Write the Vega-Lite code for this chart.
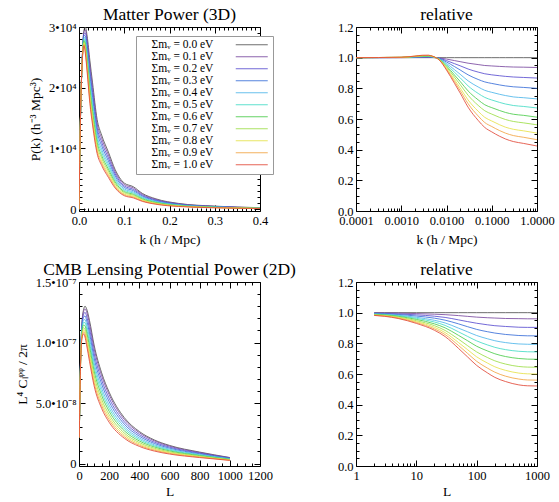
{
"$schema": "https://vega.github.io/schema/vega-lite/v6.json",
"background": "white",
"padding": {"left": 14, "top": 5, "right": 5, "bottom": 3},
"config": {
  "font": "Liberation Serif, serif",
  "view": {"stroke": "black", "strokeWidth": 1},
  "axis": {"domain": false, "grid": false, "tickColor": "black", "tickWidth": 1, "labelColor": "black", "titleColor": "black", "labelFont": "Liberation Serif, serif", "titleFont": "Liberation Serif, serif", "labelFontSize": 12.5, "titleFontSize": 13.5, "titleFontWeight": "normal", "labelFontWeight": "normal", "labelFlush": false, "labelOverlap": false, "labelPadding": 9},
  "title": {"font": "Liberation Serif, serif", "fontSize": 17.5, "fontWeight": "normal", "color": "black", "offset": -2, "frame": "group"},
  "line": {"strokeWidth": 1, "interpolate": "monotone", "opacity": 0.85}
},
"datasets": {
"pk": [
{"m":"0.0","k":0,"P":0},{"m":"0.1","k":0,"P":0},{"m":"0.2","k":0,"P":0},{"m":"0.3","k":0,"P":0},{"m":"0.4","k":0,"P":0},{"m":"0.5","k":0,"P":0},{"m":"0.6","k":0,"P":0},{"m":"0.7","k":0,"P":0},{"m":"0.8","k":0,"P":0},{"m":"0.9","k":0,"P":0},{"m":"1.0","k":0,"P":0},
{"m":"0.0","k":0.003,"P":14000},{"m":"0.1","k":0.003,"P":14020},{"m":"0.2","k":0.003,"P":14050},{"m":"0.3","k":0.003,"P":14080},{"m":"0.4","k":0.003,"P":14100},{"m":"0.5","k":0.003,"P":14120},{"m":"0.6","k":0.003,"P":14150},{"m":"0.7","k":0.003,"P":14170},{"m":"0.8","k":0.003,"P":14190},{"m":"0.9","k":0.003,"P":14200},{"m":"1.0","k":0.003,"P":14220},
{"m":"0.0","k":0.007,"P":24500},{"m":"0.1","k":0.007,"P":24450},{"m":"0.2","k":0.007,"P":24400},{"m":"0.3","k":0.007,"P":24350},{"m":"0.4","k":0.007,"P":24300},{"m":"0.5","k":0.007,"P":24260},{"m":"0.6","k":0.007,"P":24210},{"m":"0.7","k":0.007,"P":24180},{"m":"0.8","k":0.007,"P":24140},{"m":"0.9","k":0.007,"P":24110},{"m":"1.0","k":0.007,"P":24080},
{"m":"0.0","k":0.011,"P":29500},{"m":"0.1","k":0.011,"P":29220},{"m":"0.2","k":0.011,"P":28910},{"m":"0.3","k":0.011,"P":28620},{"m":"0.4","k":0.011,"P":28310},{"m":"0.5","k":0.011,"P":28050},{"m":"0.6","k":0.011,"P":27780},{"m":"0.7","k":0.011,"P":27560},{"m":"0.8","k":0.011,"P":27320},{"m":"0.9","k":0.011,"P":27130},{"m":"1.0","k":0.011,"P":26950},
{"m":"0.0","k":0.014,"P":30000},{"m":"0.1","k":0.014,"P":29520},{"m":"0.2","k":0.014,"P":29000},{"m":"0.3","k":0.014,"P":28500},{"m":"0.4","k":0.014,"P":27980},{"m":"0.5","k":0.014,"P":27540},{"m":"0.6","k":0.014,"P":27090},{"m":"0.7","k":0.014,"P":26720},{"m":"0.8","k":0.014,"P":26310},{"m":"0.9","k":0.014,"P":25990},{"m":"1.0","k":0.014,"P":25680},
{"m":"0.0","k":0.018,"P":28500},{"m":"0.1","k":0.018,"P":27840},{"m":"0.2","k":0.018,"P":27140},{"m":"0.3","k":0.018,"P":26450},{"m":"0.4","k":0.018,"P":25740},{"m":"0.5","k":0.018,"P":25140},{"m":"0.6","k":0.018,"P":24520},{"m":"0.7","k":0.018,"P":24010},{"m":"0.8","k":0.018,"P":23450},{"m":"0.9","k":0.018,"P":23010},{"m":"1.0","k":0.018,"P":22590},
{"m":"0.0","k":0.024,"P":24500},{"m":"0.1","k":0.024,"P":23720},{"m":"0.2","k":0.024,"P":22870},{"m":"0.3","k":0.024,"P":22050},{"m":"0.4","k":0.024,"P":21210},{"m":"0.5","k":0.024,"P":20480},{"m":"0.6","k":0.024,"P":19750},{"m":"0.7","k":0.024,"P":19140},{"m":"0.8","k":0.024,"P":18470},{"m":"0.9","k":0.024,"P":17950},{"m":"1.0","k":0.024,"P":17440},
{"m":"0.0","k":0.03,"P":20800},{"m":"0.1","k":0.03,"P":20030},{"m":"0.2","k":0.03,"P":19200},{"m":"0.3","k":0.03,"P":18390},{"m":"0.4","k":0.03,"P":17560},{"m":"0.5","k":0.03,"P":16840},{"m":"0.6","k":0.03,"P":16120},{"m":"0.7","k":0.03,"P":15520},{"m":"0.8","k":0.03,"P":14870},{"m":"0.9","k":0.03,"P":14350},{"m":"1.0","k":0.03,"P":13850},
{"m":"0.0","k":0.04,"P":14800},{"m":"0.1","k":0.04,"P":14180},{"m":"0.2","k":0.04,"P":13500},{"m":"0.3","k":0.04,"P":12850},{"m":"0.4","k":0.04,"P":12170},{"m":"0.5","k":0.04,"P":11600},{"m":"0.6","k":0.04,"P":11010},{"m":"0.7","k":0.04,"P":10520},{"m":"0.8","k":0.04,"P":9990},{"m":"0.9","k":0.04,"P":9570},{"m":"1.0","k":0.04,"P":9170},
{"m":"0.0","k":0.05,"P":12200},{"m":"0.1","k":0.05,"P":11650},{"m":"0.2","k":0.05,"P":11050},{"m":"0.3","k":0.05,"P":10470},{"m":"0.4","k":0.05,"P":9870},{"m":"0.5","k":0.05,"P":9360},{"m":"0.6","k":0.05,"P":8840},{"m":"0.7","k":0.05,"P":8410},{"m":"0.8","k":0.05,"P":7940},{"m":"0.9","k":0.05,"P":7570},{"m":"1.0","k":0.05,"P":7210},
{"m":"0.0","k":0.065,"P":9400},{"m":"0.1","k":0.065,"P":8940},{"m":"0.2","k":0.065,"P":8440},{"m":"0.3","k":0.065,"P":7950},{"m":"0.4","k":0.065,"P":7450},{"m":"0.5","k":0.065,"P":7030},{"m":"0.6","k":0.065,"P":6590},{"m":"0.7","k":0.065,"P":6230},{"m":"0.8","k":0.065,"P":5840},{"m":"0.9","k":0.065,"P":5530},{"m":"1.0","k":0.065,"P":5230},
{"m":"0.0","k":0.08,"P":6500},{"m":"0.1","k":0.08,"P":6160},{"m":"0.2","k":0.08,"P":5800},{"m":"0.3","k":0.08,"P":5450},{"m":"0.4","k":0.08,"P":5080},{"m":"0.5","k":0.08,"P":4770},{"m":"0.6","k":0.08,"P":4460},{"m":"0.7","k":0.08,"P":4190},{"m":"0.8","k":0.08,"P":3910},{"m":"0.9","k":0.08,"P":3680},{"m":"1.0","k":0.08,"P":3470},
{"m":"0.0","k":0.1,"P":4300},{"m":"0.1","k":0.1,"P":4070},{"m":"0.2","k":0.1,"P":3820},{"m":"0.3","k":0.1,"P":3580},{"m":"0.4","k":0.1,"P":3330},{"m":"0.5","k":0.1,"P":3110},{"m":"0.6","k":0.1,"P":2900},{"m":"0.7","k":0.1,"P":2720},{"m":"0.8","k":0.1,"P":2520},{"m":"0.9","k":0.1,"P":2370},{"m":"1.0","k":0.1,"P":2220},
{"m":"0.0","k":0.12,"P":3700},{"m":"0.1","k":0.12,"P":3500},{"m":"0.2","k":0.12,"P":3270},{"m":"0.3","k":0.12,"P":3060},{"m":"0.4","k":0.12,"P":2840},{"m":"0.5","k":0.12,"P":2650},{"m":"0.6","k":0.12,"P":2460},{"m":"0.7","k":0.12,"P":2300},{"m":"0.8","k":0.12,"P":2130},{"m":"0.9","k":0.12,"P":1990},{"m":"1.0","k":0.12,"P":1860},
{"m":"0.0","k":0.14,"P":2600},{"m":"0.1","k":0.14,"P":2450},{"m":"0.2","k":0.14,"P":2290},{"m":"0.3","k":0.14,"P":2140},{"m":"0.4","k":0.14,"P":1980},{"m":"0.5","k":0.14,"P":1850},{"m":"0.6","k":0.14,"P":1710},{"m":"0.7","k":0.14,"P":1590},{"m":"0.8","k":0.14,"P":1470},{"m":"0.9","k":0.14,"P":1370},{"m":"1.0","k":0.14,"P":1280},
{"m":"0.0","k":0.17,"P":1700},{"m":"0.1","k":0.17,"P":1600},{"m":"0.2","k":0.17,"P":1500},{"m":"0.3","k":0.17,"P":1390},{"m":"0.4","k":0.17,"P":1290},{"m":"0.5","k":0.17,"P":1200},{"m":"0.6","k":0.17,"P":1100},{"m":"0.7","k":0.17,"P":1030},{"m":"0.8","k":0.17,"P":940},{"m":"0.9","k":0.17,"P":880},{"m":"1.0","k":0.17,"P":810},
{"m":"0.0","k":0.22,"P":950},{"m":"0.1","k":0.22,"P":890},{"m":"0.2","k":0.22,"P":830},{"m":"0.3","k":0.22,"P":770},{"m":"0.4","k":0.22,"P":710},{"m":"0.5","k":0.22,"P":660},{"m":"0.6","k":0.22,"P":610},{"m":"0.7","k":0.22,"P":560},{"m":"0.8","k":0.22,"P":520},{"m":"0.9","k":0.22,"P":480},{"m":"1.0","k":0.22,"P":440},
{"m":"0.0","k":0.3,"P":500},{"m":"0.1","k":0.3,"P":470},{"m":"0.2","k":0.3,"P":440},{"m":"0.3","k":0.3,"P":410},{"m":"0.4","k":0.3,"P":370},{"m":"0.5","k":0.3,"P":340},{"m":"0.6","k":0.3,"P":320},{"m":"0.7","k":0.3,"P":290},{"m":"0.8","k":0.3,"P":270},{"m":"0.9","k":0.3,"P":250},{"m":"1.0","k":0.3,"P":230},
{"m":"0.0","k":0.4,"P":250},{"m":"0.1","k":0.4,"P":235},{"m":"0.2","k":0.4,"P":218},{"m":"0.3","k":0.4,"P":202},{"m":"0.4","k":0.4,"P":186},{"m":"0.5","k":0.4,"P":171},{"m":"0.6","k":0.4,"P":157},{"m":"0.7","k":0.4,"P":145},{"m":"0.8","k":0.4,"P":132},{"m":"0.9","k":0.4,"P":122},{"m":"1.0","k":0.4,"P":112}
],
"rk": [
{"m":"0.0","k":0.0001,"r":1},{"m":"0.1","k":0.0001,"r":1},{"m":"0.2","k":0.0001,"r":1},{"m":"0.3","k":0.0001,"r":1},{"m":"0.4","k":0.0001,"r":1},{"m":"0.5","k":0.0001,"r":1},{"m":"0.6","k":0.0001,"r":1},{"m":"0.7","k":0.0001,"r":1},{"m":"0.8","k":0.0001,"r":1},{"m":"0.9","k":0.0001,"r":1},{"m":"1.0","k":0.0001,"r":1},
{"m":"0.0","k":0.001,"r":1},{"m":"0.1","k":0.001,"r":1.000},{"m":"0.2","k":0.001,"r":1.001},{"m":"0.3","k":0.001,"r":1.001},{"m":"0.4","k":0.001,"r":1.001},{"m":"0.5","k":0.001,"r":1.002},{"m":"0.6","k":0.001,"r":1.002},{"m":"0.7","k":0.001,"r":1.002},{"m":"0.8","k":0.001,"r":1.002},{"m":"0.9","k":0.001,"r":1.003},{"m":"1.0","k":0.001,"r":1.003},
{"m":"0.0","k":0.002,"r":1},{"m":"0.1","k":0.002,"r":1.001},{"m":"0.2","k":0.002,"r":1.002},{"m":"0.3","k":0.002,"r":1.004},{"m":"0.4","k":0.002,"r":1.005},{"m":"0.5","k":0.002,"r":1.006},{"m":"0.6","k":0.002,"r":1.007},{"m":"0.7","k":0.002,"r":1.008},{"m":"0.8","k":0.002,"r":1.009},{"m":"0.9","k":0.002,"r":1.010},{"m":"1.0","k":0.002,"r":1.010},
{"m":"0.0","k":0.003,"r":1},{"m":"0.1","k":0.003,"r":1.002},{"m":"0.2","k":0.003,"r":1.004},{"m":"0.3","k":0.003,"r":1.005},{"m":"0.4","k":0.003,"r":1.007},{"m":"0.5","k":0.003,"r":1.009},{"m":"0.6","k":0.003,"r":1.010},{"m":"0.7","k":0.003,"r":1.012},{"m":"0.8","k":0.003,"r":1.013},{"m":"0.9","k":0.003,"r":1.014},{"m":"1.0","k":0.003,"r":1.016},
{"m":"0.0","k":0.004,"r":1},{"m":"0.1","k":0.004,"r":1.002},{"m":"0.2","k":0.004,"r":1.004},{"m":"0.3","k":0.004,"r":1.006},{"m":"0.4","k":0.004,"r":1.008},{"m":"0.5","k":0.004,"r":1.009},{"m":"0.6","k":0.004,"r":1.011},{"m":"0.7","k":0.004,"r":1.012},{"m":"0.8","k":0.004,"r":1.014},{"m":"0.9","k":0.004,"r":1.015},{"m":"1.0","k":0.004,"r":1.016},
{"m":"0.0","k":0.005,"r":1},{"m":"0.1","k":0.005,"r":1.001},{"m":"0.2","k":0.005,"r":1.002},{"m":"0.3","k":0.005,"r":1.003},{"m":"0.4","k":0.005,"r":1.004},{"m":"0.5","k":0.005,"r":1.005},{"m":"0.6","k":0.005,"r":1.006},{"m":"0.7","k":0.005,"r":1.007},{"m":"0.8","k":0.005,"r":1.007},{"m":"0.9","k":0.005,"r":1.008},{"m":"1.0","k":0.005,"r":1.009},
{"m":"0.0","k":0.007,"r":1},{"m":"0.1","k":0.007,"r":0.998},{"m":"0.2","k":0.007,"r":0.996},{"m":"0.3","k":0.007,"r":0.994},{"m":"0.4","k":0.007,"r":0.992},{"m":"0.5","k":0.007,"r":0.990},{"m":"0.6","k":0.007,"r":0.988},{"m":"0.7","k":0.007,"r":0.987},{"m":"0.8","k":0.007,"r":0.985},{"m":"0.9","k":0.007,"r":0.984},{"m":"1.0","k":0.007,"r":0.983},
{"m":"0.0","k":0.01,"r":1},{"m":"0.1","k":0.01,"r":0.991},{"m":"0.2","k":0.01,"r":0.981},{"m":"0.3","k":0.01,"r":0.972},{"m":"0.4","k":0.01,"r":0.962},{"m":"0.5","k":0.01,"r":0.954},{"m":"0.6","k":0.01,"r":0.946},{"m":"0.7","k":0.01,"r":0.939},{"m":"0.8","k":0.01,"r":0.931},{"m":"0.9","k":0.01,"r":0.925},{"m":"1.0","k":0.01,"r":0.919},
{"m":"0.0","k":0.015,"r":1},{"m":"0.1","k":0.015,"r":0.981},{"m":"0.2","k":0.015,"r":0.961},{"m":"0.3","k":0.015,"r":0.942},{"m":"0.4","k":0.015,"r":0.922},{"m":"0.5","k":0.015,"r":0.905},{"m":"0.6","k":0.015,"r":0.887},{"m":"0.7","k":0.015,"r":0.873},{"m":"0.8","k":0.015,"r":0.857},{"m":"0.9","k":0.015,"r":0.845},{"m":"1.0","k":0.015,"r":0.833},
{"m":"0.0","k":0.02,"r":1},{"m":"0.1","k":0.02,"r":0.974},{"m":"0.2","k":0.02,"r":0.947},{"m":"0.3","k":0.02,"r":0.920},{"m":"0.4","k":0.02,"r":0.892},{"m":"0.5","k":0.02,"r":0.869},{"m":"0.6","k":0.02,"r":0.845},{"m":"0.7","k":0.02,"r":0.825},{"m":"0.8","k":0.02,"r":0.803},{"m":"0.9","k":0.02,"r":0.786},{"m":"1.0","k":0.02,"r":0.770},
{"m":"0.0","k":0.03,"r":1},{"m":"0.1","k":0.03,"r":0.964},{"m":"0.2","k":0.03,"r":0.926},{"m":"0.3","k":0.03,"r":0.888},{"m":"0.4","k":0.03,"r":0.849},{"m":"0.5","k":0.03,"r":0.816},{"m":"0.6","k":0.03,"r":0.783},{"m":"0.7","k":0.03,"r":0.755},{"m":"0.8","k":0.03,"r":0.724},{"m":"0.9","k":0.03,"r":0.700},{"m":"1.0","k":0.03,"r":0.677},
{"m":"0.0","k":0.05,"r":1},{"m":"0.1","k":0.05,"r":0.955},{"m":"0.2","k":0.05,"r":0.906},{"m":"0.3","k":0.05,"r":0.858},{"m":"0.4","k":0.05,"r":0.809},{"m":"0.5","k":0.05,"r":0.767},{"m":"0.6","k":0.05,"r":0.725},{"m":"0.7","k":0.05,"r":0.689},{"m":"0.8","k":0.05,"r":0.651},{"m":"0.9","k":0.05,"r":0.620},{"m":"1.0","k":0.05,"r":0.591},
{"m":"0.0","k":0.07,"r":1},{"m":"0.1","k":0.07,"r":0.949},{"m":"0.2","k":0.07,"r":0.895},{"m":"0.3","k":0.07,"r":0.842},{"m":"0.4","k":0.07,"r":0.787},{"m":"0.5","k":0.07,"r":0.741},{"m":"0.6","k":0.07,"r":0.693},{"m":"0.7","k":0.07,"r":0.654},{"m":"0.8","k":0.07,"r":0.611},{"m":"0.9","k":0.07,"r":0.577},{"m":"1.0","k":0.07,"r":0.545},
{"m":"0.0","k":0.1,"r":1},{"m":"0.1","k":0.1,"r":0.946},{"m":"0.2","k":0.1,"r":0.888},{"m":"0.3","k":0.1,"r":0.832},{"m":"0.4","k":0.1,"r":0.774},{"m":"0.5","k":0.1,"r":0.724},{"m":"0.6","k":0.1,"r":0.674},{"m":"0.7","k":0.1,"r":0.632},{"m":"0.8","k":0.1,"r":0.587},{"m":"0.9","k":0.1,"r":0.551},{"m":"1.0","k":0.1,"r":0.516},
{"m":"0.0","k":0.15,"r":1},{"m":"0.1","k":0.15,"r":0.943},{"m":"0.2","k":0.15,"r":0.882},{"m":"0.3","k":0.15,"r":0.822},{"m":"0.4","k":0.15,"r":0.761},{"m":"0.5","k":0.15,"r":0.708},{"m":"0.6","k":0.15,"r":0.655},{"m":"0.7","k":0.15,"r":0.610},{"m":"0.8","k":0.15,"r":0.562},{"m":"0.9","k":0.15,"r":0.524},{"m":"1.0","k":0.15,"r":0.487},
{"m":"0.0","k":0.2,"r":1},{"m":"0.1","k":0.2,"r":0.941},{"m":"0.2","k":0.2,"r":0.878},{"m":"0.3","k":0.2,"r":0.816},{"m":"0.4","k":0.2,"r":0.753},{"m":"0.5","k":0.2,"r":0.698},{"m":"0.6","k":0.2,"r":0.643},{"m":"0.7","k":0.2,"r":0.597},{"m":"0.8","k":0.2,"r":0.547},{"m":"0.9","k":0.2,"r":0.508},{"m":"1.0","k":0.2,"r":0.470},
{"m":"0.0","k":0.3,"r":1},{"m":"0.1","k":0.3,"r":0.939},{"m":"0.2","k":0.3,"r":0.874},{"m":"0.3","k":0.3,"r":0.810},{"m":"0.4","k":0.3,"r":0.744},{"m":"0.5","k":0.3,"r":0.688},{"m":"0.6","k":0.3,"r":0.631},{"m":"0.7","k":0.3,"r":0.584},{"m":"0.8","k":0.3,"r":0.533},{"m":"0.9","k":0.3,"r":0.492},{"m":"1.0","k":0.3,"r":0.453},
{"m":"0.0","k":0.5,"r":1},{"m":"0.1","k":0.5,"r":0.938},{"m":"0.2","k":0.5,"r":0.871},{"m":"0.3","k":0.5,"r":0.806},{"m":"0.4","k":0.5,"r":0.739},{"m":"0.5","k":0.5,"r":0.682},{"m":"0.6","k":0.5,"r":0.624},{"m":"0.7","k":0.5,"r":0.575},{"m":"0.8","k":0.5,"r":0.523},{"m":"0.9","k":0.5,"r":0.481},{"m":"1.0","k":0.5,"r":0.441},
{"m":"0.0","k":1,"r":1},{"m":"0.1","k":1,"r":0.936},{"m":"0.2","k":1,"r":0.867},{"m":"0.3","k":1,"r":0.800},{"m":"0.4","k":1,"r":0.731},{"m":"0.5","k":1,"r":0.672},{"m":"0.6","k":1,"r":0.612},{"m":"0.7","k":1,"r":0.562},{"m":"0.8","k":1,"r":0.508},{"m":"0.9","k":1,"r":0.465},{"m":"1.0","k":1,"r":0.424}
],
"cl": [
{"m":"0.0","L":2,"C":22.0e-9},{"m":"0.1","L":2,"C":21.96e-9},{"m":"0.2","L":2,"C":21.91e-9},{"m":"0.3","L":2,"C":21.87e-9},{"m":"0.4","L":2,"C":21.82e-9},{"m":"0.5","L":2,"C":21.78e-9},{"m":"0.6","L":2,"C":21.74e-9},{"m":"0.7","L":2,"C":21.69e-9},{"m":"0.8","L":2,"C":21.67e-9},{"m":"0.9","L":2,"C":21.63e-9},{"m":"1.0","L":2,"C":21.60e-9},
{"m":"0.0","L":5,"C":50.0e-9},{"m":"0.1","L":5,"C":49.85e-9},{"m":"0.2","L":5,"C":49.6e-9},{"m":"0.3","L":5,"C":49.4e-9},{"m":"0.4","L":5,"C":49.15e-9},{"m":"0.5","L":5,"C":49.0e-9},{"m":"0.6","L":5,"C":48.8e-9},{"m":"0.7","L":5,"C":48.6e-9},{"m":"0.8","L":5,"C":48.4e-9},{"m":"0.9","L":5,"C":48.25e-9},{"m":"1.0","L":5,"C":48.1e-9},
{"m":"0.0","L":10,"C":85.0e-9},{"m":"0.1","L":10,"C":84.49e-9},{"m":"0.2","L":10,"C":83.81e-9},{"m":"0.3","L":10,"C":83.13e-9},{"m":"0.4","L":10,"C":82.45e-9},{"m":"0.5","L":10,"C":81.86e-9},{"m":"0.6","L":10,"C":81.26e-9},{"m":"0.7","L":10,"C":80.58e-9},{"m":"0.8","L":10,"C":80.07e-9},{"m":"0.9","L":10,"C":79.56e-9},{"m":"1.0","L":10,"C":79.05e-9},
{"m":"0.0","L":20,"C":117.0e-9},{"m":"0.1","L":20,"C":115.83e-9},{"m":"0.2","L":20,"C":114.31e-9},{"m":"0.3","L":20,"C":112.79e-9},{"m":"0.4","L":20,"C":111.15e-9},{"m":"0.5","L":20,"C":109.86e-9},{"m":"0.6","L":20,"C":108.46e-9},{"m":"0.7","L":20,"C":107.06e-9},{"m":"0.8","L":20,"C":105.77e-9},{"m":"0.9","L":20,"C":104.6e-9},{"m":"1.0","L":20,"C":103.55e-9},
{"m":"0.0","L":30,"C":127.0e-9},{"m":"0.1","L":30,"C":125.35e-9},{"m":"0.2","L":30,"C":123.06e-9},{"m":"0.3","L":30,"C":120.78e-9},{"m":"0.4","L":30,"C":118.49e-9},{"m":"0.5","L":30,"C":116.46e-9},{"m":"0.6","L":30,"C":114.43e-9},{"m":"0.7","L":30,"C":112.27e-9},{"m":"0.8","L":30,"C":110.49e-9},{"m":"0.9","L":30,"C":108.84e-9},{"m":"1.0","L":30,"C":107.19e-9},
{"m":"0.0","L":40,"C":130.0e-9},{"m":"0.1","L":40,"C":127.92e-9},{"m":"0.2","L":40,"C":124.93e-9},{"m":"0.3","L":40,"C":121.94e-9},{"m":"0.4","L":40,"C":118.95e-9},{"m":"0.5","L":40,"C":116.35e-9},{"m":"0.6","L":40,"C":113.75e-9},{"m":"0.7","L":40,"C":111.02e-9},{"m":"0.8","L":40,"C":108.68e-9},{"m":"0.9","L":40,"C":106.6e-9},{"m":"1.0","L":40,"C":104.52e-9},
{"m":"0.0","L":50,"C":128.0e-9},{"m":"0.1","L":50,"C":125.57e-9},{"m":"0.2","L":50,"C":121.98e-9},{"m":"0.3","L":50,"C":118.66e-9},{"m":"0.4","L":50,"C":115.07e-9},{"m":"0.5","L":50,"C":112.0e-9},{"m":"0.6","L":50,"C":109.06e-9},{"m":"0.7","L":50,"C":105.86e-9},{"m":"0.8","L":50,"C":103.04e-9},{"m":"0.9","L":50,"C":100.61e-9},{"m":"1.0","L":50,"C":98.18e-9},
{"m":"0.0","L":70,"C":118.0e-9},{"m":"0.1","L":70,"C":115.17e-9},{"m":"0.2","L":70,"C":111.16e-9},{"m":"0.3","L":70,"C":107.26e-9},{"m":"0.4","L":70,"C":103.37e-9},{"m":"0.5","L":70,"C":99.83e-9},{"m":"0.6","L":70,"C":96.52e-9},{"m":"0.7","L":70,"C":92.75e-9},{"m":"0.8","L":70,"C":89.68e-9},{"m":"0.9","L":70,"C":86.85e-9},{"m":"1.0","L":70,"C":84.13e-9},
{"m":"0.0","L":100,"C":98.0e-9},{"m":"0.1","L":100,"C":95.16e-9},{"m":"0.2","L":100,"C":91.24e-9},{"m":"0.3","L":100,"C":87.32e-9},{"m":"0.4","L":100,"C":83.4e-9},{"m":"0.5","L":100,"C":79.97e-9},{"m":"0.6","L":100,"C":76.54e-9},{"m":"0.7","L":100,"C":72.91e-9},{"m":"0.8","L":100,"C":69.78e-9},{"m":"0.9","L":100,"C":66.93e-9},{"m":"1.0","L":100,"C":64.29e-9},
{"m":"0.0","L":150,"C":75.0e-9},{"m":"0.1","L":150,"C":72.53e-9},{"m":"0.2","L":150,"C":69.08e-9},{"m":"0.3","L":150,"C":65.7e-9},{"m":"0.4","L":150,"C":62.25e-9},{"m":"0.5","L":150,"C":59.25e-9},{"m":"0.6","L":150,"C":56.33e-9},{"m":"0.7","L":150,"C":53.1e-9},{"m":"0.8","L":150,"C":50.4e-9},{"m":"0.9","L":150,"C":47.93e-9},{"m":"1.0","L":150,"C":45.6e-9},
{"m":"0.0","L":200,"C":59.0e-9},{"m":"0.1","L":200,"C":56.94e-9},{"m":"0.2","L":200,"C":53.99e-9},{"m":"0.3","L":200,"C":51.15e-9},{"m":"0.4","L":200,"C":48.2e-9},{"m":"0.5","L":200,"C":45.67e-9},{"m":"0.6","L":200,"C":43.19e-9},{"m":"0.7","L":200,"C":40.47e-9},{"m":"0.8","L":200,"C":38.17e-9},{"m":"0.9","L":200,"C":36.11e-9},{"m":"1.0","L":200,"C":34.1e-9},
{"m":"0.0","L":300,"C":38.0e-9},{"m":"0.1","L":300,"C":36.56e-9},{"m":"0.2","L":300,"C":34.58e-9},{"m":"0.3","L":300,"C":32.6e-9},{"m":"0.4","L":300,"C":30.59e-9},{"m":"0.5","L":300,"C":28.84e-9},{"m":"0.6","L":300,"C":27.13e-9},{"m":"0.7","L":300,"C":25.27e-9},{"m":"0.8","L":300,"C":23.71e-9},{"m":"0.9","L":300,"C":22.27e-9},{"m":"1.0","L":300,"C":20.94e-9},
{"m":"0.0","L":400,"C":26.5e-9},{"m":"0.1","L":400,"C":25.47e-9},{"m":"0.2","L":400,"C":24.04e-9},{"m":"0.3","L":400,"C":22.63e-9},{"m":"0.4","L":400,"C":21.17e-9},{"m":"0.5","L":400,"C":19.93e-9},{"m":"0.6","L":400,"C":18.68e-9},{"m":"0.7","L":400,"C":17.36e-9},{"m":"0.8","L":400,"C":16.22e-9},{"m":"0.9","L":400,"C":15.18e-9},{"m":"1.0","L":400,"C":14.2e-9},
{"m":"0.0","L":500,"C":19.5e-9},{"m":"0.1","L":500,"C":18.74e-9},{"m":"0.2","L":500,"C":17.65e-9},{"m":"0.3","L":500,"C":16.59e-9},{"m":"0.4","L":500,"C":15.52e-9},{"m":"0.5","L":500,"C":14.59e-9},{"m":"0.6","L":500,"C":13.67e-9},{"m":"0.7","L":500,"C":12.66e-9},{"m":"0.8","L":500,"C":11.82e-9},{"m":"0.9","L":500,"C":11.06e-9},{"m":"1.0","L":500,"C":10.32e-9},
{"m":"0.0","L":600,"C":15.0e-9},{"m":"0.1","L":600,"C":14.4e-9},{"m":"0.2","L":600,"C":13.58e-9},{"m":"0.3","L":600,"C":12.75e-9},{"m":"0.4","L":600,"C":11.91e-9},{"m":"0.5","L":600,"C":11.19e-9},{"m":"0.6","L":600,"C":10.47e-9},{"m":"0.7","L":600,"C":9.69e-9},{"m":"0.8","L":600,"C":9.05e-9},{"m":"0.9","L":600,"C":8.45e-9},{"m":"1.0","L":600,"C":7.88e-9},
{"m":"0.0","L":800,"C":9.5e-9},{"m":"0.1","L":800,"C":9.12e-9},{"m":"0.2","L":800,"C":8.59e-9},{"m":"0.3","L":800,"C":8.07e-9},{"m":"0.4","L":800,"C":7.53e-9},{"m":"0.5","L":800,"C":7.08e-9},{"m":"0.6","L":800,"C":6.62e-9},{"m":"0.7","L":800,"C":6.13e-9},{"m":"0.8","L":800,"C":5.71e-9},{"m":"0.9","L":800,"C":5.33e-9},{"m":"1.0","L":800,"C":4.97e-9},
{"m":"0.0","L":1000,"C":5.0e-9},{"m":"0.1","L":1000,"C":4.8e-9},{"m":"0.2","L":1000,"C":4.52e-9},{"m":"0.3","L":1000,"C":4.25e-9},{"m":"0.4","L":1000,"C":3.97e-9},{"m":"0.5","L":1000,"C":3.73e-9},{"m":"0.6","L":1000,"C":3.48e-9},{"m":"0.7","L":1000,"C":3.23e-9},{"m":"0.8","L":1000,"C":3.0e-9},{"m":"0.9","L":1000,"C":2.81e-9},{"m":"1.0","L":1000,"C":2.61e-9}
],
"rl": [
{"m":"0.0","L":2,"r":1},{"m":"0.1","L":2,"r":0.998},{"m":"0.2","L":2,"r":0.996},{"m":"0.3","L":2,"r":0.994},{"m":"0.4","L":2,"r":0.992},{"m":"0.5","L":2,"r":0.990},{"m":"0.6","L":2,"r":0.988},{"m":"0.7","L":2,"r":0.986},{"m":"0.8","L":2,"r":0.985},{"m":"0.9","L":2,"r":0.983},{"m":"1.0","L":2,"r":0.982},
{"m":"0.0","L":3,"r":1},{"m":"0.1","L":3,"r":0.998},{"m":"0.2","L":3,"r":0.995},{"m":"0.3","L":3,"r":0.992},{"m":"0.4","L":3,"r":0.990},{"m":"0.5","L":3,"r":0.987},{"m":"0.6","L":3,"r":0.985},{"m":"0.7","L":3,"r":0.982},{"m":"0.8","L":3,"r":0.980},{"m":"0.9","L":3,"r":0.978},{"m":"1.0","L":3,"r":0.976},
{"m":"0.0","L":5,"r":1},{"m":"0.1","L":5,"r":0.997},{"m":"0.2","L":5,"r":0.992},{"m":"0.3","L":5,"r":0.988},{"m":"0.4","L":5,"r":0.983},{"m":"0.5","L":5,"r":0.980},{"m":"0.6","L":5,"r":0.976},{"m":"0.7","L":5,"r":0.972},{"m":"0.8","L":5,"r":0.968},{"m":"0.9","L":5,"r":0.965},{"m":"1.0","L":5,"r":0.962},
{"m":"0.0","L":10,"r":1},{"m":"0.1","L":10,"r":0.994},{"m":"0.2","L":10,"r":0.986},{"m":"0.3","L":10,"r":0.978},{"m":"0.4","L":10,"r":0.970},{"m":"0.5","L":10,"r":0.963},{"m":"0.6","L":10,"r":0.956},{"m":"0.7","L":10,"r":0.948},{"m":"0.8","L":10,"r":0.942},{"m":"0.9","L":10,"r":0.936},{"m":"1.0","L":10,"r":0.930},
{"m":"0.0","L":20,"r":1},{"m":"0.1","L":20,"r":0.990},{"m":"0.2","L":20,"r":0.977},{"m":"0.3","L":20,"r":0.964},{"m":"0.4","L":20,"r":0.950},{"m":"0.5","L":20,"r":0.939},{"m":"0.6","L":20,"r":0.927},{"m":"0.7","L":20,"r":0.915},{"m":"0.8","L":20,"r":0.904},{"m":"0.9","L":20,"r":0.894},{"m":"1.0","L":20,"r":0.885},
{"m":"0.0","L":30,"r":1},{"m":"0.1","L":30,"r":0.987},{"m":"0.2","L":30,"r":0.969},{"m":"0.3","L":30,"r":0.951},{"m":"0.4","L":30,"r":0.933},{"m":"0.5","L":30,"r":0.917},{"m":"0.6","L":30,"r":0.901},{"m":"0.7","L":30,"r":0.884},{"m":"0.8","L":30,"r":0.870},{"m":"0.9","L":30,"r":0.857},{"m":"1.0","L":30,"r":0.844},
{"m":"0.0","L":50,"r":1},{"m":"0.1","L":50,"r":0.981},{"m":"0.2","L":50,"r":0.953},{"m":"0.3","L":50,"r":0.927},{"m":"0.4","L":50,"r":0.899},{"m":"0.5","L":50,"r":0.875},{"m":"0.6","L":50,"r":0.852},{"m":"0.7","L":50,"r":0.827},{"m":"0.8","L":50,"r":0.805},{"m":"0.9","L":50,"r":0.786},{"m":"1.0","L":50,"r":0.767},
{"m":"0.0","L":70,"r":1},{"m":"0.1","L":70,"r":0.976},{"m":"0.2","L":70,"r":0.942},{"m":"0.3","L":70,"r":0.909},{"m":"0.4","L":70,"r":0.876},{"m":"0.5","L":70,"r":0.846},{"m":"0.6","L":70,"r":0.818},{"m":"0.7","L":70,"r":0.786},{"m":"0.8","L":70,"r":0.760},{"m":"0.9","L":70,"r":0.736},{"m":"1.0","L":70,"r":0.713},
{"m":"0.0","L":100,"r":1},{"m":"0.1","L":100,"r":0.971},{"m":"0.2","L":100,"r":0.931},{"m":"0.3","L":100,"r":0.891},{"m":"0.4","L":100,"r":0.851},{"m":"0.5","L":100,"r":0.816},{"m":"0.6","L":100,"r":0.781},{"m":"0.7","L":100,"r":0.744},{"m":"0.8","L":100,"r":0.712},{"m":"0.9","L":100,"r":0.683},{"m":"1.0","L":100,"r":0.656},
{"m":"0.0","L":150,"r":1},{"m":"0.1","L":150,"r":0.967},{"m":"0.2","L":150,"r":0.921},{"m":"0.3","L":150,"r":0.876},{"m":"0.4","L":150,"r":0.830},{"m":"0.5","L":150,"r":0.790},{"m":"0.6","L":150,"r":0.751},{"m":"0.7","L":150,"r":0.708},{"m":"0.8","L":150,"r":0.672},{"m":"0.9","L":150,"r":0.639},{"m":"1.0","L":150,"r":0.608},
{"m":"0.0","L":200,"r":1},{"m":"0.1","L":200,"r":0.965},{"m":"0.2","L":200,"r":0.915},{"m":"0.3","L":200,"r":0.867},{"m":"0.4","L":200,"r":0.817},{"m":"0.5","L":200,"r":0.774},{"m":"0.6","L":200,"r":0.732},{"m":"0.7","L":200,"r":0.686},{"m":"0.8","L":200,"r":0.647},{"m":"0.9","L":200,"r":0.612},{"m":"1.0","L":200,"r":0.578},
{"m":"0.0","L":300,"r":1},{"m":"0.1","L":300,"r":0.962},{"m":"0.2","L":300,"r":0.910},{"m":"0.3","L":300,"r":0.858},{"m":"0.4","L":300,"r":0.805},{"m":"0.5","L":300,"r":0.759},{"m":"0.6","L":300,"r":0.714},{"m":"0.7","L":300,"r":0.665},{"m":"0.8","L":300,"r":0.624},{"m":"0.9","L":300,"r":0.586},{"m":"1.0","L":300,"r":0.551},
{"m":"0.0","L":500,"r":1},{"m":"0.1","L":500,"r":0.961},{"m":"0.2","L":500,"r":0.905},{"m":"0.3","L":500,"r":0.851},{"m":"0.4","L":500,"r":0.796},{"m":"0.5","L":500,"r":0.748},{"m":"0.6","L":500,"r":0.701},{"m":"0.7","L":500,"r":0.649},{"m":"0.8","L":500,"r":0.606},{"m":"0.9","L":500,"r":0.567},{"m":"1.0","L":500,"r":0.529},
{"m":"0.0","L":700,"r":1},{"m":"0.1","L":700,"r":0.960},{"m":"0.2","L":700,"r":0.904},{"m":"0.3","L":700,"r":0.849},{"m":"0.4","L":700,"r":0.794},{"m":"0.5","L":700,"r":0.745},{"m":"0.6","L":700,"r":0.697},{"m":"0.7","L":700,"r":0.645},{"m":"0.8","L":700,"r":0.601},{"m":"0.9","L":700,"r":0.561},{"m":"1.0","L":700,"r":0.523},
{"m":"0.0","L":1000,"r":1},{"m":"0.1","L":1000,"r":0.960},{"m":"0.2","L":1000,"r":0.904},{"m":"0.3","L":1000,"r":0.849},{"m":"0.4","L":1000,"r":0.793},{"m":"0.5","L":1000,"r":0.744},{"m":"0.6","L":1000,"r":0.696},{"m":"0.7","L":1000,"r":0.644},{"m":"0.8","L":1000,"r":0.600},{"m":"0.9","L":1000,"r":0.560},{"m":"1.0","L":1000,"r":0.522}
]
},
"columns": 2,
"spacing": {"row": 71, "column": 96},
"bounds": "flush",
"resolve": {"scale": {"color": "independent"}, "legend": {"color": "independent"}},
"concat": [
{
  "width": 181, "height": 184,
  "title": "Matter Power (3D)",
  "data": {"name": "pk"},
  "layer": [
    {"mark": {"type": "line", "clip": true},
     "encoding": {
       "x": {"field": "k", "type": "quantitative", "scale": {"domain": [0, 0.4], "nice": false, "zero": false},
             "axis": {"title": "k (h / Mpc)", "titlePadding": 3,
                      "values": [0,0.01,0.02,0.03,0.04,0.05,0.06,0.07,0.08,0.09,0.1,0.11,0.12,0.13,0.14,0.15,0.16,0.17,0.18,0.19,0.2,0.21,0.22,0.23,0.24,0.25,0.26,0.27,0.28,0.29,0.3,0.31,0.32,0.33,0.34,0.35,0.36,0.37,0.38,0.39,0.4],
                      "labelExpr": "abs(datum.value*10-round(datum.value*10))<1e-6 ? format(datum.value,'.1f') : ''",
                      "tickSize": {"condition": {"test": "abs(datum.value*10-round(datum.value*10))<1e-6", "value": -6}, "value": -3}}},
       "y": {"field": "P", "type": "quantitative", "scale": {"domain": [-300, 30000], "nice": false, "zero": false},
             "axis": {"title": "P(k) (h⁻³ Mpc³)", "titlePadding": 6,
                      "values": [0,1000,2000,3000,4000,5000,6000,7000,8000,9000,10000,11000,12000,13000,14000,15000,16000,17000,18000,19000,20000,21000,22000,23000,24000,25000,26000,27000,28000,29000,30000],
                      "labelExpr": "datum.value % 10000 == 0 ? (datum.value == 0 ? '0' : (datum.value/10000) + '•10⁴') : ''",
                      "tickSize": {"condition": {"test": "datum.value % 10000 == 0", "value": -6}, "value": -3}}},
       "color": {"field": "m", "type": "nominal",
                 "scale": {"domain": ["0.0","0.1","0.2","0.3","0.4","0.5","0.6","0.7","0.8","0.9","1.0"], "range": ["#555555","#7a4aa0","#5a4fd0","#3a6fd8","#4fb6ea","#45dcc6","#4ccc4c","#9ede48","#e6e24a","#f2a444","#e24a3a"]},
                 "legend": {"orient": "none", "legendX": 57, "legendY": 9, "title": null, "labelExpr": "'Σmᵥ = ' + datum.label + ' eV'", "symbolType": "M91,0L123,0", "symbolSize": 4, "symbolStrokeWidth": 1.3, "symbolOpacity": 0.85, "labelFontSize": 11.5, "labelFont": "Liberation Serif, serif", "labelColor": "black", "rowPadding": -2.6, "padding": 3, "strokeColor": "#999999", "fillColor": "white", "labelOffset": 1, "labelLimit": 200}}
     }},
    {"mark": {"type": "point", "opacity": 0},
     "encoding": {
       "x": {"field": "k", "type": "quantitative", "scale": {"domain": [0, 0.4], "nice": false, "zero": false},
             "axis": {"orient": "top", "labels": false, "title": null,
                      "values": [0,0.01,0.02,0.03,0.04,0.05,0.06,0.07,0.08,0.09,0.1,0.11,0.12,0.13,0.14,0.15,0.16,0.17,0.18,0.19,0.2,0.21,0.22,0.23,0.24,0.25,0.26,0.27,0.28,0.29,0.3,0.31,0.32,0.33,0.34,0.35,0.36,0.37,0.38,0.39,0.4],
                      "tickSize": {"condition": {"test": "abs(datum.value*10-round(datum.value*10))<1e-6", "value": -6}, "value": -3}}},
       "y": {"field": "P", "type": "quantitative", "scale": {"domain": [-300, 30000], "nice": false, "zero": false},
             "axis": {"orient": "right", "labels": false, "title": null,
                      "values": [0,1000,2000,3000,4000,5000,6000,7000,8000,9000,10000,11000,12000,13000,14000,15000,16000,17000,18000,19000,20000,21000,22000,23000,24000,25000,26000,27000,28000,29000,30000],
                      "tickSize": {"condition": {"test": "datum.value % 10000 == 0", "value": -6}, "value": -3}}}
     }}
  ],
  "resolve": {"axis": {"x": "independent", "y": "independent"}}
},
{
  "width": 181, "height": 184,
  "title": "relative",
  "data": {"name": "rk"},
  "layer": [
    {"mark": {"type": "line", "clip": true},
     "encoding": {
       "x": {"field": "k", "type": "quantitative", "scale": {"type": "log", "domain": [0.0001, 1], "nice": false},
             "axis": {"title": "k (h / Mpc)", "titlePadding": 3,
                      "values": [0.0001,0.0002,0.0003,0.0004,0.0005,0.0006,0.0007,0.0008,0.0009,0.001,0.002,0.003,0.004,0.005,0.006,0.007,0.008,0.009,0.01,0.02,0.03,0.04,0.05,0.06,0.07,0.08,0.09,0.1,0.2,0.3,0.4,0.5,0.6,0.7,0.8,0.9,1],
                      "labelExpr": "abs(log(datum.value)/LN10-round(log(datum.value)/LN10))<1e-6 ? format(datum.value,'.4f') : ''",
                      "tickSize": {"condition": {"test": "abs(log(datum.value)/LN10-round(log(datum.value)/LN10))<1e-6", "value": -6}, "value": -3}}},
       "y": {"field": "r", "type": "quantitative", "scale": {"domain": [0, 1.2], "nice": false, "zero": false},
             "axis": {"title": null,
                      "values": [0,0.05,0.1,0.15,0.2,0.25,0.3,0.35,0.4,0.45,0.5,0.55,0.6,0.65,0.7,0.75,0.8,0.85,0.9,0.95,1,1.05,1.1,1.15,1.2],
                      "labelExpr": "abs(datum.value*5-round(datum.value*5))<1e-6 ? format(datum.value,'.1f') : ''",
                      "tickSize": {"condition": {"test": "abs(datum.value*5-round(datum.value*5))<1e-6", "value": -6}, "value": -3}}},
       "color": {"field": "m", "type": "nominal",
                 "scale": {"domain": ["0.0","0.1","0.2","0.3","0.4","0.5","0.6","0.7","0.8","0.9","1.0"], "range": ["#555555","#7a4aa0","#5a4fd0","#3a6fd8","#4fb6ea","#45dcc6","#4ccc4c","#9ede48","#e6e24a","#f2a444","#e24a3a"]},
                 "legend": null}
     }},
    {"mark": {"type": "point", "opacity": 0},
     "encoding": {
       "x": {"field": "k", "type": "quantitative", "scale": {"type": "log", "domain": [0.0001, 1], "nice": false},
             "axis": {"orient": "top", "labels": false, "title": null,
                      "values": [0.0001,0.0002,0.0003,0.0004,0.0005,0.0006,0.0007,0.0008,0.0009,0.001,0.002,0.003,0.004,0.005,0.006,0.007,0.008,0.009,0.01,0.02,0.03,0.04,0.05,0.06,0.07,0.08,0.09,0.1,0.2,0.3,0.4,0.5,0.6,0.7,0.8,0.9,1],
                      "tickSize": {"condition": {"test": "abs(log(datum.value)/LN10-round(log(datum.value)/LN10))<1e-6", "value": -6}, "value": -3}}},
       "y": {"field": "r", "type": "quantitative", "scale": {"domain": [0, 1.2], "nice": false, "zero": false},
             "axis": {"orient": "right", "labels": false, "title": null,
                      "values": [0,0.05,0.1,0.15,0.2,0.25,0.3,0.35,0.4,0.45,0.5,0.55,0.6,0.65,0.7,0.75,0.8,0.85,0.9,0.95,1,1.05,1.1,1.15,1.2],
                      "tickSize": {"condition": {"test": "abs(datum.value*5-round(datum.value*5))<1e-6", "value": -6}, "value": -3}}}
     }}
  ],
  "resolve": {"axis": {"x": "independent", "y": "independent"}}
},
{
  "width": 181, "height": 184,
  "title": "CMB Lensing Potential Power (2D)",
  "data": {"name": "cl"},
  "layer": [
    {"mark": {"type": "line", "clip": true},
     "encoding": {
       "x": {"field": "L", "type": "quantitative", "scale": {"domain": [0, 1200], "nice": false, "zero": false},
             "axis": {"title": "L", "titlePadding": 0,
                      "values": [0,50,100,150,200,250,300,350,400,450,500,550,600,650,700,750,800,850,900,950,1000,1050,1100,1150,1200],
                      "labelExpr": "datum.value % 200 == 0 ? format(datum.value,'d') : ''",
                      "tickSize": {"condition": {"test": "datum.value % 200 == 0", "value": -6}, "value": -3}}},
       "y": {"field": "C", "type": "quantitative", "scale": {"domain": [-2e-9, 1.5e-7], "nice": false, "zero": false},
             "axis": {"title": "L⁴ Cₗᵠᵠ / 2π", "titlePadding": 6,
                      "values": [0,1e-8,2e-8,3e-8,4e-8,5e-8,6e-8,7e-8,8e-8,9e-8,1e-7,1.1e-7,1.2e-7,1.3e-7,1.4e-7,1.5e-7],
                      "labelExpr": "abs(datum.value/5e-8-round(datum.value/5e-8))<1e-6 ? (datum.value == 0 ? '0' : datum.value < 7.5e-8 ? '5.0•10⁻⁸' : datum.value < 1.25e-7 ? '1.0•10⁻⁷' : '1.5•10⁻⁷') : ''",
                      "tickSize": {"condition": {"test": "abs(datum.value/5e-8-round(datum.value/5e-8))<1e-6", "value": -6}, "value": -3}}},
       "color": {"field": "m", "type": "nominal",
                 "scale": {"domain": ["0.0","0.1","0.2","0.3","0.4","0.5","0.6","0.7","0.8","0.9","1.0"], "range": ["#555555","#7a4aa0","#5a4fd0","#3a6fd8","#4fb6ea","#45dcc6","#4ccc4c","#9ede48","#e6e24a","#f2a444","#e24a3a"]},
                 "legend": null}
     }},
    {"mark": {"type": "point", "opacity": 0},
     "encoding": {
       "x": {"field": "L", "type": "quantitative", "scale": {"domain": [0, 1200], "nice": false, "zero": false},
             "axis": {"orient": "top", "labels": false, "title": null,
                      "values": [0,50,100,150,200,250,300,350,400,450,500,550,600,650,700,750,800,850,900,950,1000,1050,1100,1150,1200],
                      "tickSize": {"condition": {"test": "datum.value % 200 == 0", "value": -6}, "value": -3}}},
       "y": {"field": "C", "type": "quantitative", "scale": {"domain": [-2e-9, 1.5e-7], "nice": false, "zero": false},
             "axis": {"orient": "right", "labels": false, "title": null,
                      "values": [0,1e-8,2e-8,3e-8,4e-8,5e-8,6e-8,7e-8,8e-8,9e-8,1e-7,1.1e-7,1.2e-7,1.3e-7,1.4e-7,1.5e-7],
                      "tickSize": {"condition": {"test": "abs(datum.value/5e-8-round(datum.value/5e-8))<1e-6", "value": -6}, "value": -3}}}
     }}
  ],
  "resolve": {"axis": {"x": "independent", "y": "independent"}}
},
{
  "width": 181, "height": 184,
  "title": "relative",
  "data": {"name": "rl"},
  "layer": [
    {"mark": {"type": "line", "clip": true},
     "encoding": {
       "x": {"field": "L", "type": "quantitative", "scale": {"type": "log", "domain": [1, 1000], "nice": false},
             "axis": {"title": "L", "titlePadding": 0,
                      "values": [1,2,3,4,5,6,7,8,9,10,20,30,40,50,60,70,80,90,100,200,300,400,500,600,700,800,900,1000],
                      "labelExpr": "abs(log(datum.value)/LN10-round(log(datum.value)/LN10))<1e-6 ? format(datum.value,'d') : ''",
                      "tickSize": {"condition": {"test": "abs(log(datum.value)/LN10-round(log(datum.value)/LN10))<1e-6", "value": -6}, "value": -3}}},
       "y": {"field": "r", "type": "quantitative", "scale": {"domain": [0, 1.2], "nice": false, "zero": false},
             "axis": {"title": null,
                      "values": [0,0.05,0.1,0.15,0.2,0.25,0.3,0.35,0.4,0.45,0.5,0.55,0.6,0.65,0.7,0.75,0.8,0.85,0.9,0.95,1,1.05,1.1,1.15,1.2],
                      "labelExpr": "abs(datum.value*5-round(datum.value*5))<1e-6 ? format(datum.value,'.1f') : ''",
                      "tickSize": {"condition": {"test": "abs(datum.value*5-round(datum.value*5))<1e-6", "value": -6}, "value": -3}}},
       "color": {"field": "m", "type": "nominal",
                 "scale": {"domain": ["0.0","0.1","0.2","0.3","0.4","0.5","0.6","0.7","0.8","0.9","1.0"], "range": ["#555555","#7a4aa0","#5a4fd0","#3a6fd8","#4fb6ea","#45dcc6","#4ccc4c","#9ede48","#e6e24a","#f2a444","#e24a3a"]},
                 "legend": null}
     }},
    {"mark": {"type": "point", "opacity": 0},
     "encoding": {
       "x": {"field": "L", "type": "quantitative", "scale": {"type": "log", "domain": [1, 1000], "nice": false},
             "axis": {"orient": "top", "labels": false, "title": null,
                      "values": [1,2,3,4,5,6,7,8,9,10,20,30,40,50,60,70,80,90,100,200,300,400,500,600,700,800,900,1000],
                      "tickSize": {"condition": {"test": "abs(log(datum.value)/LN10-round(log(datum.value)/LN10))<1e-6", "value": -6}, "value": -3}}},
       "y": {"field": "r", "type": "quantitative", "scale": {"domain": [0, 1.2], "nice": false, "zero": false},
             "axis": {"orient": "right", "labels": false, "title": null,
                      "values": [0,0.05,0.1,0.15,0.2,0.25,0.3,0.35,0.4,0.45,0.5,0.55,0.6,0.65,0.7,0.75,0.8,0.85,0.9,0.95,1,1.05,1.1,1.15,1.2],
                      "tickSize": {"condition": {"test": "abs(datum.value*5-round(datum.value*5))<1e-6", "value": -6}, "value": -3}}}
     }}
  ],
  "resolve": {"axis": {"x": "independent", "y": "independent"}}
}
]
}
